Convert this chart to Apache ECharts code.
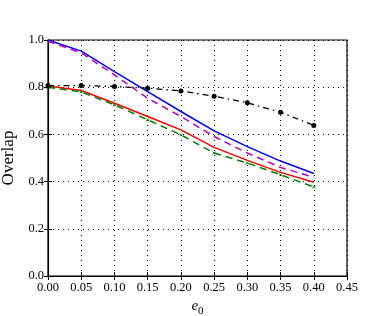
<!DOCTYPE html>
<html><head><meta charset="utf-8">
<script src="https://cdn.jsdelivr.net/npm/echarts@6/dist/echarts.min.js"></script>
<style>html,body{margin:0;padding:0;background:#fff}#c{width:385px;height:316px}</style>
</head><body><div id="c"></div>
<script>
var xVals = [0.00, 0.05, 0.10, 0.15, 0.20, 0.25, 0.30, 0.35, 0.40];
var blackDots = [0.807, 0.807, 0.803, 0.796, 0.784, 0.762, 0.734, 0.694, 0.638];
var blueSolid = [1.000, 0.953, 0.866, 0.781, 0.697, 0.615, 0.548, 0.487, 0.434];
var magentaDash = [0.995, 0.945, 0.852, 0.753, 0.676, 0.591, 0.521, 0.460, 0.418];
var redSolid = [0.805, 0.786, 0.732, 0.676, 0.619, 0.545, 0.490, 0.439, 0.397];
var greenDash = [0.800, 0.780, 0.725, 0.662, 0.598, 0.521, 0.479, 0.429, 0.377];
var xTicks = [0, 0.05, 0.1, 0.15, 0.2, 0.25, 0.3, 0.35, 0.4, 0.45];
var yTicks = [0, 0.2, 0.4, 0.6, 0.8, 1.0];

function pairs(v){ return xVals.map(function(x,i){ return [x, v[i]]; }); }
var font = 'Liberation Serif';
var chart = echarts.init(document.getElementById('c'));
chart.setOption({
  animation: false,
  grid: {left: 48, right: 38, top: 40, bottom: 40, outerBoundsMode: 'none', containLabel: false, show: true, borderColor: '#000', borderWidth: 1.2, backgroundColor: 'transparent'},
  xAxis: [{
    type: 'value', min: 0, max: 0.45, interval: 0.05,
    name: '{i|e}{s|0}', nameLocation: 'middle', nameGap: 20,
    nameTextStyle: {rich: {i: {fontFamily: font, fontStyle: 'italic', fontSize: 15, color: '#000'}, s: {fontFamily: font, fontSize: 11, color: '#000', padding: [9, 0, 0, 0]}}},
    axisLine: {show: true, lineStyle: {color: '#000', width: 1.2}},
    axisTick: {show: true, inside: true, length: 4, lineStyle: {color: '#000'}},
    axisLabel: {fontFamily: font, fontSize: 12.5, color: '#000', margin: 5, formatter: function(v){ return v.toFixed(2); }},
    splitLine: {show: true, lineStyle: {color: '#000', type: [1, 4], width: 1}}
  }, {
    type: 'value', position: 'top', min: 0, max: 0.45, interval: 0.05,
    axisLine: {show: false}, axisTick: {show: true, inside: true, length: 4, lineStyle: {color: '#000'}},
    axisLabel: {show: false}, splitLine: {show: false}
  }],
  yAxis: [{
    type: 'value', min: 0, max: 1.0, interval: 0.2,
    name: 'Overlap', nameLocation: 'middle', nameGap: 28, nameRotate: 90,
    nameTextStyle: {fontFamily: font, fontSize: 17, color: '#000'},
    axisLine: {show: true, lineStyle: {color: '#000', width: 1.2}},
    axisTick: {show: true, inside: true, length: 4, lineStyle: {color: '#000'}},
    axisLabel: {fontFamily: font, fontSize: 12.5, color: '#000', margin: 4, formatter: function(v){ return v.toFixed(1); }},
    splitLine: {show: true, lineStyle: {color: '#000', type: [1, 4], width: 1}}
  }, {
    type: 'value', position: 'right', min: 0, max: 1.0, interval: 0.2,
    axisLine: {show: false}, axisTick: {show: true, inside: true, length: 4, lineStyle: {color: '#000'}},
    axisLabel: {show: false}, splitLine: {show: false}
  }],
  series: [
    {type: 'line', data: pairs(blackDots), symbol: 'circle', symbolSize: 5, itemStyle: {color: '#000'},
     lineStyle: {color: '#000', width: 1.3, type: [6, 4, 1.5, 4]}, z: 5},
    {type: 'line', data: pairs(blueSolid), showSymbol: false, symbol: 'none', lineStyle: {color: '#0000ff', width: 1.5}},
    {type: 'line', data: pairs(magentaDash), showSymbol: false, symbol: 'none', lineStyle: {color: '#bf00bf', width: 1.5, type: [7, 5]}},
    {type: 'line', data: pairs(redSolid), showSymbol: false, symbol: 'none', lineStyle: {color: '#ff0000', width: 1.5}},
    {type: 'line', data: pairs(greenDash), symbol: 'path://M0,0L10,10M10,0L0,10', symbolSize: 3,
     itemStyle: {color: 'none', borderColor: '#008000', borderWidth: 1}, lineStyle: {color: '#008000', width: 1.5, type: [7, 5]}}
  ]
});
</script></body></html>
